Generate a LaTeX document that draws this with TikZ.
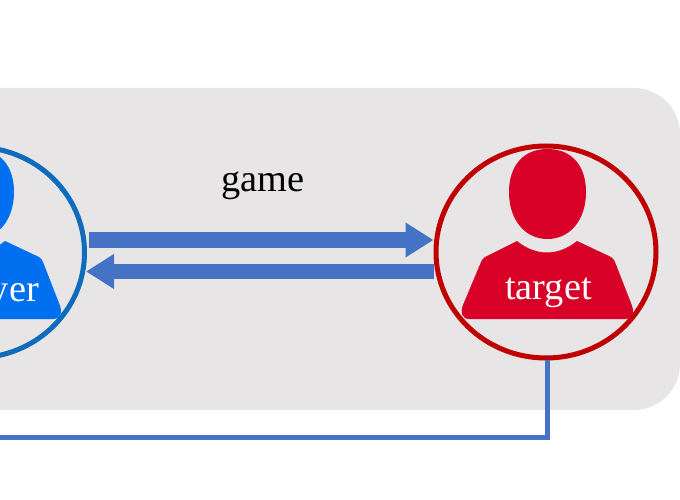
\documentclass[tikz,border=0pt]{standalone}
\usepackage{fontspec}
\setmainfont{Liberation Serif}
\usetikzlibrary{arrows.meta,shapes.geometric}
\definecolor{panelgray}{HTML}{E7E5E6}
\definecolor{redfill}{HTML}{D80027}
\definecolor{redring}{HTML}{C00000}
\definecolor{bluefill}{HTML}{0070F0}
\definecolor{bluering}{HTML}{0F6CBD}
\definecolor{linkblue}{HTML}{4472C4}
\tikzset{
  x=1pt,y=-1pt,
  ring/.style={draw=#1,line width=5pt,ellipse,minimum width=219pt,minimum height=211pt,inner sep=0pt,outer sep=0pt},
  bigtext/.style={font=\fontsize{38.3}{40}\selectfont,inner sep=0pt},
  flow/.style={draw=linkblue,line width=15.5pt,-{Triangle[length=28pt,width=33pt]}},
  link/.style={draw=linkblue,line width=5pt,line join=miter},
}
\newcommand{\personshape}[2]{%
  \begin{scope}[shift={(#1,0)}]
  \fill[#2] (547.5,149)
    .. controls (572,149) and (586,166) .. (586,192)
    .. controls (586,220) and (570,239) .. (547.5,239)
    .. controls (525,239) and (509,220) .. (509,192)
    .. controls (509,166) and (523,149) .. (547.5,149) -- cycle;
  \fill[#2]
    (517,241) .. controls (527,249) and (537,252.5) .. (547,252.5)
    .. controls (557,252.5) and (567,249) .. (577,241)
    -- (611,257) .. controls (613,258) and (614,260) .. (615,262)
    -- (631,303)
    .. controls (635,312) and (633,319) .. (625,319)
    -- (469,319)
    .. controls (462,319) and (460,312) .. (463,305)
    -- (481,262) .. controls (482,260) and (483,258) .. (485,257)
    -- cycle;
  \end{scope}%
}
\begin{document}
\begin{tikzpicture}
\useasboundingbox (0,0) rectangle (680,500);
\clip (0,0) rectangle (680,500);
\fill[panelgray,rounded corners=46pt] (-100,88) rectangle (680,410);
% people
\personshape{0}{redfill}
\personshape{-572}{bluefill}
\node[ring=redring,minimum width=220pt,minimum height=212pt] (target) at (546,252) {};
\node[ring=bluering] (player) at (-25,252.5) {};
\node[bigtext,text=white,anchor=base] (targetlabel) at (548.5,299) {target};
\node[bigtext,text=white,anchor=base east] (playerlabel) at (39,301) {player};
\node[bigtext,anchor=base] (gamelabel) at (263,191) {game};
% flows
\coordinate (topstart) at (89,240);
\coordinate (topend) at (433.5,240);
\coordinate (botstart) at (433.5,271.5);
\coordinate (botend) at (86,271.5);
\coordinate (linkstart) at (547.5,360);
\coordinate (linkcorner) at (547.5,437.5);
\coordinate (linkend) at (0,437.5);
\draw[flow] (topstart) -- (topend);
\draw[flow] (botstart) -- (botend);
\draw[link] (linkstart) -- (linkcorner) -- (linkend);
\end{tikzpicture}
\end{document}
